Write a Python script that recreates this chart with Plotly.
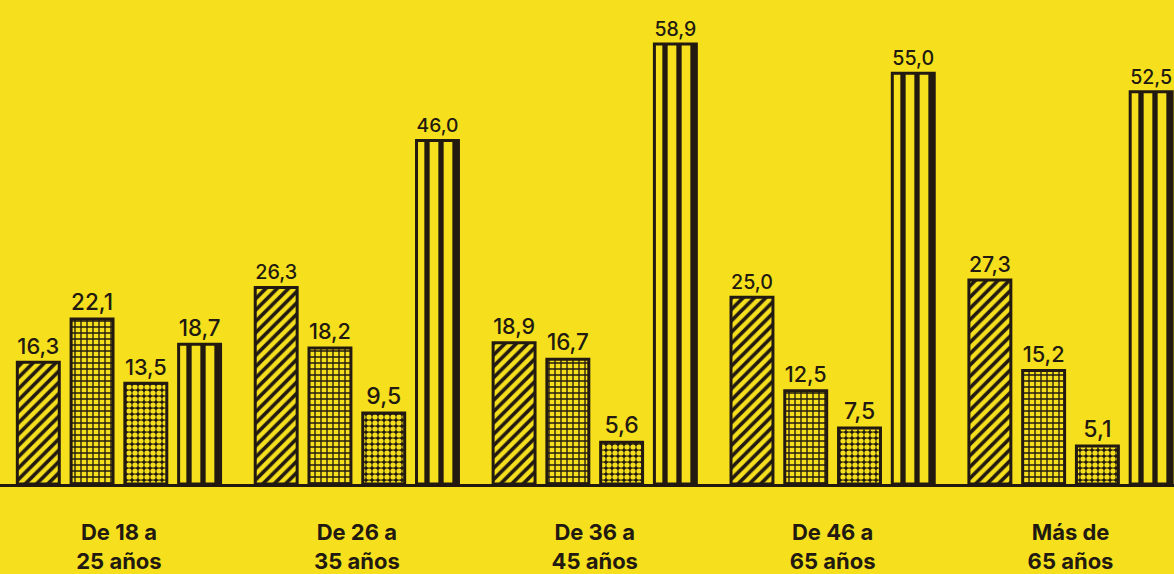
import plotly.graph_objects as go

categories = ["De 18 a<br>25 años", "De 26 a<br>35 años", "De 36 a<br>45 años",
              "De 46 a<br>65 años", "Más de<br>65 años"]
serie_a = [16.3, 26.3, 18.9, 25.0, 27.3]
serie_b = [22.1, 18.2, 16.7, 12.5, 15.2]
serie_c = [13.5, 9.5, 5.6, 7.5, 5.1]
serie_d = [18.7, 46.0, 58.9, 55.0, 52.5]

YELLOW = "#F6E01E"
INK = "#221a10"

def fmt(v):
    return f"{v:.1f}".replace(".", ",")

styles = [
    dict(shape="/", size=8, solidity=0.45, fgcolor=INK, bgcolor=YELLOW),
    dict(shape="+", size=6, solidity=0.4, fgcolor=INK, bgcolor=YELLOW),
    dict(shape=".", size=6, solidity=0.6, fgcolor=YELLOW, bgcolor=INK),
    dict(shape="|", size=14, solidity=0.38, fgcolor=INK, bgcolor=YELLOW),
]

fig = go.Figure()
for name, vals, pat in zip(["A", "B", "C", "D"], [serie_a, serie_b, serie_c, serie_d], styles):
    fig.add_trace(go.Bar(
        x=categories, y=vals, name=name,
        text=[fmt(v) for v in vals], textposition="outside",
        textfont=dict(family="Inter, Liberation Sans, Arial", size=23, color=INK, weight=500),
        marker=dict(color=YELLOW, line=dict(color=INK, width=3),
                    pattern=dict(fillmode="replace", fgopacity=1, **pat)),
        cliponaxis=False, showlegend=False,
    ))

fig.update_layout(
    width=1174, height=574,
    margin=dict(l=0, r=0, t=0, b=85),
    paper_bgcolor=YELLOW, plot_bgcolor=YELLOW,
    barmode="group", bargap=0.096, bargroupgap=0.22,
    xaxis=dict(
        type="category", range=[-0.5, 4.435],
        showgrid=False, zeroline=False,
        showline=True, linecolor=INK, linewidth=3,
        ticks="", ticklabelstandoff=27,
        tickfont=dict(family="Inter, Liberation Sans, Arial", size=22, color=INK, weight="bold"),
    ),
    yaxis=dict(range=[0, 64.8], visible=False, showgrid=False, zeroline=False),
)

fig.write_html("out.html", config={"displayModeBar": False},
               post_script="document.body.style.margin='0';document.body.style.padding='0';")
